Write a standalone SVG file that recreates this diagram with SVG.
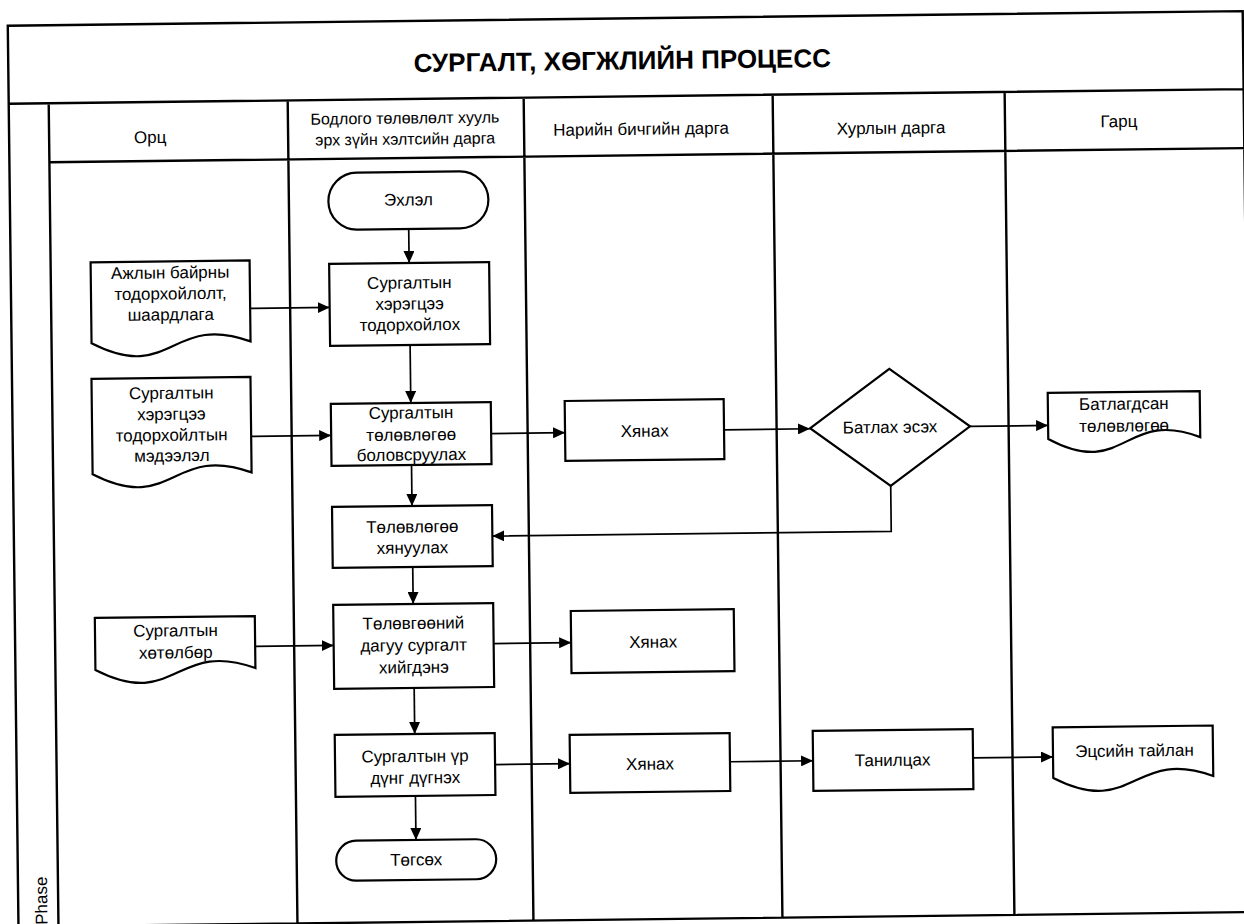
<svg xmlns="http://www.w3.org/2000/svg" width="1244" height="924" viewBox="0 0 1244 924">
<style>
.ln{stroke:#000;stroke-width:2.4;fill:none}
.b{fill:#fff;stroke:#000;stroke-width:2.2}
.c{stroke:#000;stroke-width:1.7;fill:none;marker-end:url(#ah)}
.t{font-family:"Liberation Sans",Arial,sans-serif;font-size:17px;text-anchor:middle;fill:#000}
.ttl{font-weight:bold;font-size:26px}
.hs{font-size:16px}
</style>
<defs>
<marker id="ah" markerWidth="12" markerHeight="11" refX="12" refY="5.5" orient="auto" markerUnits="userSpaceOnUse"><path d="M0,0 L12,5.5 L0,11 Z" fill="#000"/></marker>
</defs>
<rect width="1244" height="924" fill="#fff"/>
<g transform="rotate(-0.68 622 462)">
<g id="frame">
<path class="ln" d="M13,935 V18.5 H1248 V919.5 M13,96.5 H1248 M53,96.5 V935 M53,155.5 H1248 M292,96.5 V919.5 M528,96.5 V919.5 M777,96.5 V919.5 M1009,96.5 V919.5 M13,919.5 H1248"/>
<text class="t ttl" x="627" y="69.5">СУРГАЛТ, ХӨГЖЛИЙН ПРОЦЕСС</text>
<text class="t" x="154" y="137.5">Орц</text>
<text class="t hs" x="409" y="121">Бодлого төлөвлөлт хууль</text>
<text class="t hs" x="409" y="142">эрх зүйн хэлтсийн дарга</text>
<text class="t" x="645" y="135">Нарийн бичгийн дарга</text>
<text class="t" x="895" y="137">Хурлын дарга</text>
<text class="t" x="1123" y="133">Гарц</text>
<text class="t" style="text-anchor:start" transform="translate(42,918) rotate(-90)">Phase</text>
</g>
<g id="connectors">
<path class="c" d="M411.5,226.5 V260.5"/>
<path class="c" d="M252,304 H331.5"/>
<path class="c" d="M411.5,342.5 V400.5"/>
<path class="c" d="M251.5,432 H331.5"/>
<path class="c" d="M491.5,432 H565.4"/>
<path class="c" d="M724.4,431 H810.4"/>
<path class="c" d="M970.4,430.5 H1048.5"/>
<path class="c" d="M890.4,489 V534.5 H491.5"/>
<path class="c" d="M411.5,462.5 V503.5"/>
<path class="c" d="M411.5,564.5 V601.5"/>
<path class="c" d="M253,642 H331.5"/>
<path class="c" d="M491.5,642 H569"/>
<path class="c" d="M411.5,685.5 V731.5"/>
<path class="c" d="M491.5,763 H566.4"/>
<path class="c" d="M726.4,763 H809.5"/>
<path class="c" d="M969.5,762 H1049.5"/>
<path class="c" d="M411.5,793.5 V837.5"/>
</g>
<g id="start"><rect class="b" x="331.5" y="169.5" width="160" height="57" rx="28.5"/><text class="t" x="411.5" y="203">Эхлэл</text></g>
<g id="box1"><rect class="b" x="331.5" y="260.5" width="160" height="82"/><text class="t" x="411.5" y="286">Сургалтын</text><text class="t" x="411.5" y="307">хэрэгцээ</text><text class="t" x="411.5" y="328">тодорхойлох</text></g>
<g id="doc1"><path class="b" d="M93,256 H252 V337 C172.5,307 172.5,379 93,337 Z"/><text class="t" x="172.5" y="273">Ажлын байрны</text><text class="t" x="172.5" y="294">тодорхойлолт,</text><text class="t" x="172.5" y="315">шаардлага</text></g>
<g id="doc2"><path class="b" d="M92.5,372.5 H251.5 V468 C172,438 172,510 92.5,468 Z"/><text class="t" x="172" y="393.5">Сургалтын</text><text class="t" x="172" y="414.5">хэрэгцээ</text><text class="t" x="172" y="435.5">тодорхойлтын</text><text class="t" x="172" y="456">мэдээлэл</text></g>
<g id="box2"><rect class="b" x="331.5" y="400.5" width="160" height="62"/><text class="t" x="411.5" y="416">Сургалтын</text><text class="t" x="411.5" y="438">төлөвлөгөө</text><text class="t" x="411.5" y="458">боловсруулах</text></g>
<g id="check1"><rect class="b" x="565.4" y="400.3" width="159" height="60"/><text class="t" x="645" y="437">Хянах</text></g>
<g id="decision"><polygon class="b" points="810.4,430.5 890.4,372 970.4,430.5 890.4,489"/><text class="t" x="890.4" y="436">Батлах эсэх</text></g>
<g id="doc3"><path class="b" d="M1048.5,398 H1200.5 V444 C1124.5,414 1124.5,486 1048.5,444 Z"/><text class="t" x="1124.5" y="415.5">Батлагдсан</text><text class="t" x="1124.5" y="437.5">төлөвлөгөө</text></g>
<g id="box3"><rect class="b" x="331.5" y="503.5" width="160" height="61"/><text class="t" x="411.5" y="530">Төлөвлөгөө</text><text class="t" x="411.5" y="551">хянуулах</text></g>
<g id="box4"><rect class="b" x="331.5" y="601.5" width="160" height="84"/><text class="t" x="411.5" y="626.5">Төлөвгөөний</text><text class="t" x="411.5" y="648.5">дагуу сургалт</text><text class="t" x="411.5" y="670.5">хийгдэнэ</text></g>
<g id="doc4"><path class="b" d="M93,611.7 H253 V663.7 C173,633.7 173,705.7 93,663.7 Z"/><text class="t" x="173.5" y="631">Сургалтын</text><text class="t" x="173.5" y="653">хөтөлбөр</text></g>
<g id="check2"><rect class="b" x="569" y="610.4" width="163" height="62"/><text class="t" x="651" y="648">Хянах</text></g>
<g id="box5"><rect class="b" x="331.5" y="731.5" width="160" height="62"/><text class="t" x="411.5" y="759.5">Сургалтын үр</text><text class="t" x="411.5" y="781">дүнг дүгнэх</text></g>
<g id="check3"><rect class="b" x="566.4" y="734.3" width="160" height="58"/><text class="t" x="646.4" y="770">Хянах</text></g>
<g id="review"><rect class="b" x="809.5" y="733.2" width="160" height="60"/><text class="t" x="889" y="769">Танилцах</text></g>
<g id="doc5"><path class="b" d="M1049.5,732.5 H1209.5 V783 C1129.5,753 1129.5,825 1049.5,783 Z"/><text class="t" x="1131" y="762.5">Эцсийн тайлан</text></g>
<g id="end"><rect class="b" x="331.5" y="837.5" width="160" height="40" rx="20"/><text class="t" x="411.5" y="863">Төгсөх</text></g>
</g>
</svg>
